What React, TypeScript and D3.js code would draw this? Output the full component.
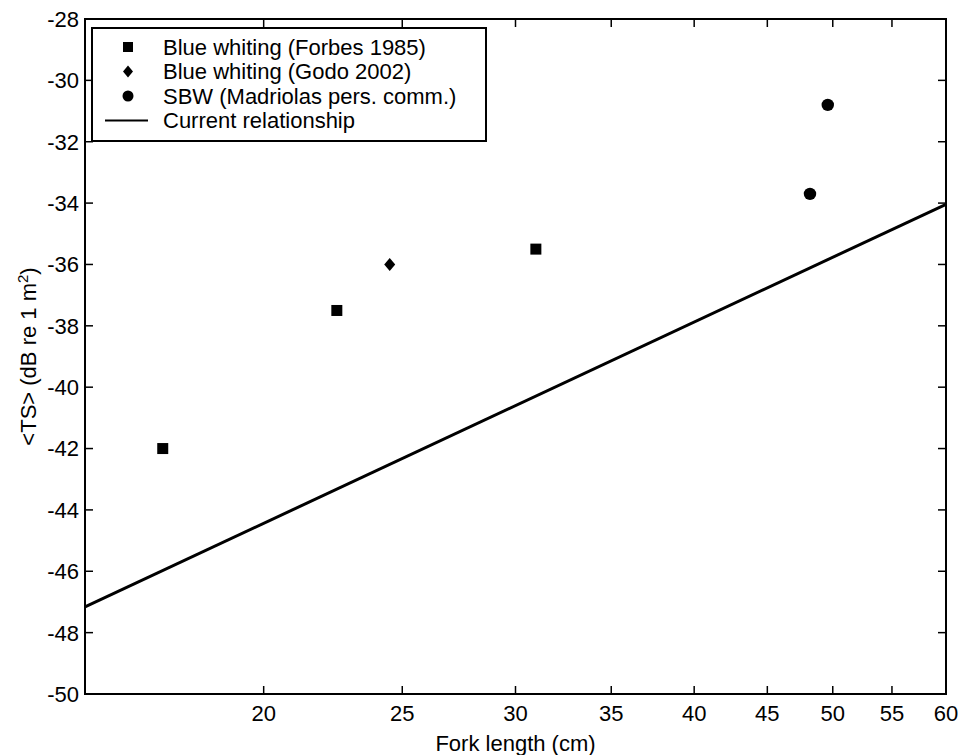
import { useRef, useEffect } from "react";
import * as d3 from "d3";

// Blue whiting (Forbes 1985)
const forbesLength = [17, 22.5, 31];
const forbesTS = [-42.0, -37.5, -35.5];
// Blue whiting (Godo 2002)
const godoLength = [24.5];
const godoTS = [-36.0];
// SBW (Madriolas pers. comm.)
const sbwLength = [48.2, 49.6];
const sbwTS = [-33.7, -30.8];
// Current relationship (end points of the line)
const relLength = [15, 60];
const relTS = [-47.16, -34.04];

const xTicks = [20, 25, 30, 35, 40, 45, 50, 55, 60];
const yTicks = [-50, -48, -46, -44, -42, -40, -38, -36, -34, -32, -30, -28];

const legendLabels = [
  "Blue whiting (Forbes 1985)",
  "Blue whiting (Godo 2002)",
  "SBW (Madriolas pers. comm.)",
  "Current relationship",
];

export default function App() {
  const ref = useRef<HTMLDivElement>(null);

  function init() {
    if (!ref.current) return;
    ref.current.innerHTML = "";

    const W = 963,
      H = 755;
    const left = 85,
      right = 946,
      top = 19,
      bottom = 694;
    const font = "'Liberation Sans', Arial, Helvetica, sans-serif";
    const fs = 22;

    const svg = d3
      .select(ref.current)
      .append("svg")
      .attr("width", W)
      .attr("height", H)
      .style("position", "absolute")
      .style("left", "0px")
      .style("top", "0px")
      .style("background", "#fff")
      .style("font-family", font);

    const x = d3.scaleLog().domain([15, 60]).range([left, right]);
    const y = d3.scaleLinear().domain([-50, -28]).range([bottom, top]);

    // Data
    const line = d3
      .line<number>()
      .x((d) => x(d))
      .y((d, i) => y(relTS[i]));

    svg
      .append("path")
      .datum(relLength)
      .attr("d", line)
      .attr("fill", "none")
      .attr("stroke", "#000")
      .attr("stroke-width", 3);

    const sq = 11;
    svg
      .append("g")
      .selectAll("rect")
      .data(forbesLength)
      .join("rect")
      .attr("x", (d) => x(d) - sq / 2)
      .attr("y", (d, i) => y(forbesTS[i]) - sq / 2)
      .attr("width", sq)
      .attr("height", sq)
      .attr("fill", "#000");

    const diamond = (cx: number, cy: number, w: number, h: number) =>
      `M${cx},${cy - h / 2}L${cx + w / 2},${cy}L${cx},${cy + h / 2}L${cx - w / 2},${cy}Z`;

    svg
      .append("g")
      .selectAll("path")
      .data(godoLength)
      .join("path")
      .attr("d", (d, i) => diamond(x(d), y(godoTS[i]), 11, 13))
      .attr("fill", "#000");

    svg
      .append("g")
      .selectAll("circle")
      .data(sbwLength)
      .join("circle")
      .attr("cx", (d) => x(d))
      .attr("cy", (d, i) => y(sbwTS[i]))
      .attr("r", 6.2)
      .attr("fill", "#000");

    // Legend
    const lg = svg.append("g");
    lg.append("rect")
      .attr("x", 92)
      .attr("y", 28)
      .attr("width", 394)
      .attr("height", 113)
      .attr("fill", "#fff")
      .attr("stroke", "#000")
      .attr("stroke-width", 2);

    const rowY = [47, 71.5, 96, 120.5];
    const mx = 128;
    lg.append("rect")
      .attr("x", mx - 5)
      .attr("y", rowY[0] - 5)
      .attr("width", 10)
      .attr("height", 10)
      .attr("fill", "#000");
    lg.append("path").attr("d", diamond(mx, rowY[1], 10, 12)).attr("fill", "#000");
    lg.append("circle").attr("cx", mx).attr("cy", rowY[2]).attr("r", 5.5).attr("fill", "#000");
    lg.append("line")
      .attr("x1", 105)
      .attr("x2", 148)
      .attr("y1", rowY[3])
      .attr("y2", rowY[3])
      .attr("stroke", "#000")
      .attr("stroke-width", 2);

    lg.selectAll("text")
      .data(legendLabels)
      .join("text")
      .attr("x", 163)
      .attr("y", (d, i) => rowY[i])
      .attr("dy", "0.36em")
      .attr("font-size", fs)
      .text((d) => d);

    // Frame
    svg
      .append("rect")
      .attr("x", left)
      .attr("y", top)
      .attr("width", right - left)
      .attr("height", bottom - top)
      .attr("fill", "none")
      .attr("stroke", "#000")
      .attr("stroke-width", 2);

    const tl = 8;
    // x ticks (inward, bottom and top)
    const xt = svg.append("g");
    xTicks.forEach((t) => {
      xt.append("line")
        .attr("x1", x(t))
        .attr("x2", x(t))
        .attr("y1", bottom)
        .attr("y2", bottom - tl)
        .attr("stroke", "#000")
        .attr("stroke-width", 1.5);
      xt.append("line")
        .attr("x1", x(t))
        .attr("x2", x(t))
        .attr("y1", top)
        .attr("y2", top + tl)
        .attr("stroke", "#000")
        .attr("stroke-width", 1.5);
      xt.append("text")
        .attr("x", x(t))
        .attr("y", 721)
        .attr("text-anchor", "middle")
        .attr("font-size", fs)
        .text(t);
    });

    // y ticks (inward, left and right)
    const yt = svg.append("g");
    yTicks.forEach((t) => {
      yt.append("line")
        .attr("x1", left)
        .attr("x2", left + tl)
        .attr("y1", y(t))
        .attr("y2", y(t))
        .attr("stroke", "#000")
        .attr("stroke-width", 1.5);
      yt.append("line")
        .attr("x1", right)
        .attr("x2", right - tl)
        .attr("y1", y(t))
        .attr("y2", y(t))
        .attr("stroke", "#000")
        .attr("stroke-width", 1.5);
      yt.append("text")
        .attr("x", 79)
        .attr("y", y(t))
        .attr("dy", "0.36em")
        .attr("text-anchor", "end")
        .attr("font-size", fs)
        .text(t);
    });

    // Axis labels
    svg
      .append("text")
      .attr("x", (left + right) / 2)
      .attr("y", 751)
      .attr("text-anchor", "middle")
      .attr("font-size", fs)
      .text("Fork length (cm)");

    const yl = svg
      .append("text")
      .attr("transform", `translate(36, ${(top + bottom) / 2}) rotate(-90)`)
      .attr("text-anchor", "middle")
      .attr("font-size", fs);
    yl.append("tspan").text("<TS> (dB re 1 m");
    yl.append("tspan").attr("dy", -8).attr("font-size", 15).text("2");
    yl.append("tspan").attr("dy", 8).text(")");
  }

  useEffect(init, []);

  return (
    <>
      <div ref={ref}></div>
    </>
  );
}
